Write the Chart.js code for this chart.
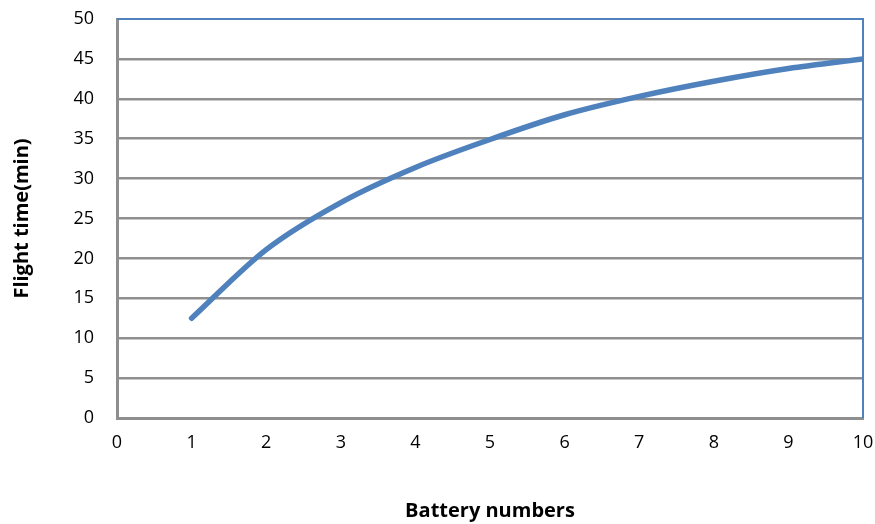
<!DOCTYPE html>
<html>
<head>
<meta charset="utf-8">
<script src="https://cdn.jsdelivr.net/npm/chart.js@4/dist/chart.umd.min.js"></script>
<style>
  html, body { margin: 0; padding: 0; background: #ffffff; }
  #wrap { width: 875px; height: 524px; position: relative; }
</style>
</head>
<body>
<div id="wrap"><canvas id="chart" width="875" height="524"></canvas></div>
<script>
// Flight time against the number of batteries carried
const batteryNumbers = [1, 2, 3, 4, 5, 6, 7, 8, 9, 10];
const flightTimes = [12.5, 21.1, 27.0, 31.4, 34.9, 38.0, 40.3, 42.2, 43.8, 45.0];

const xTitle = 'Battery numbers';
const yTitle = 'Flight time(min)';

const lineBlue = '#4F81BD';
const gridGray = '#8f8f8f';
const fontFamily = '"Open Sans", "Liberation Sans", sans-serif';

// Thin blue frame along the top and right of the plot area
const frame = {
  id: 'frame',
  beforeDatasetsDraw(chart) {
    const { ctx, chartArea: a } = chart;
    ctx.save();
    ctx.strokeStyle = lineBlue;
    ctx.lineWidth = 2;
    ctx.beginPath();
    ctx.moveTo(a.left, a.top);
    ctx.lineTo(a.right, a.top);
    ctx.lineTo(a.right, a.bottom);
    ctx.stroke();
    ctx.restore();
  }
};

new Chart(document.getElementById('chart'), {
  type: 'line',
  data: {
    datasets: [{
      data: batteryNumbers.map((x, i) => ({ x: x, y: flightTimes[i] })),
      borderColor: lineBlue,
      borderWidth: 5.5,
      borderCapStyle: 'round',
      borderJoinStyle: 'round',
      pointRadius: 0,
      cubicInterpolationMode: 'monotone',
      fill: false
    }]
  },
  options: {
    responsive: false,
    animation: false,
    layout: { padding: { left: 0, top: 19, right: 12, bottom: 0 } },
    plugins: { legend: { display: false }, tooltip: { enabled: false } },
    scales: {
      x: {
        type: 'linear',
        min: 0, max: 10,
        afterFit(s) { s.height = 106; s.paddingLeft = 0; s.paddingRight = 0; },
        ticks: { stepSize: 1, color: '#000', padding: 14, font: { family: fontFamily, size: 18 } },
        grid: { display: false, drawTicks: false },
        border: { color: gridGray, width: 3 },
        title: { display: true, text: xTitle, color: '#000', padding: { top: 0, bottom: 1 },
                 font: { family: fontFamily, size: 20, weight: 'bold' } }
      },
      y: {
        min: 0, max: 50,
        afterFit(s) { s.width = 117; s.paddingTop = 0; s.paddingBottom = 0; },
        ticks: { stepSize: 5, color: '#000', padding: 23, font: { family: fontFamily, size: 18 } },
        grid: {
          drawTicks: false,
          lineWidth: 2.5,
          color: c => (c.tick && c.tick.value === 50) ? 'rgba(0,0,0,0)' : gridGray
        },
        border: { color: gridGray, width: 3 },
        title: { display: true, text: yTitle, color: '#000', padding: { top: 10, bottom: 0 },
                 font: { family: fontFamily, size: 20, weight: 'bold' } }
      }
    }
  },
  plugins: [frame]
});
</script>
</body>
</html>
